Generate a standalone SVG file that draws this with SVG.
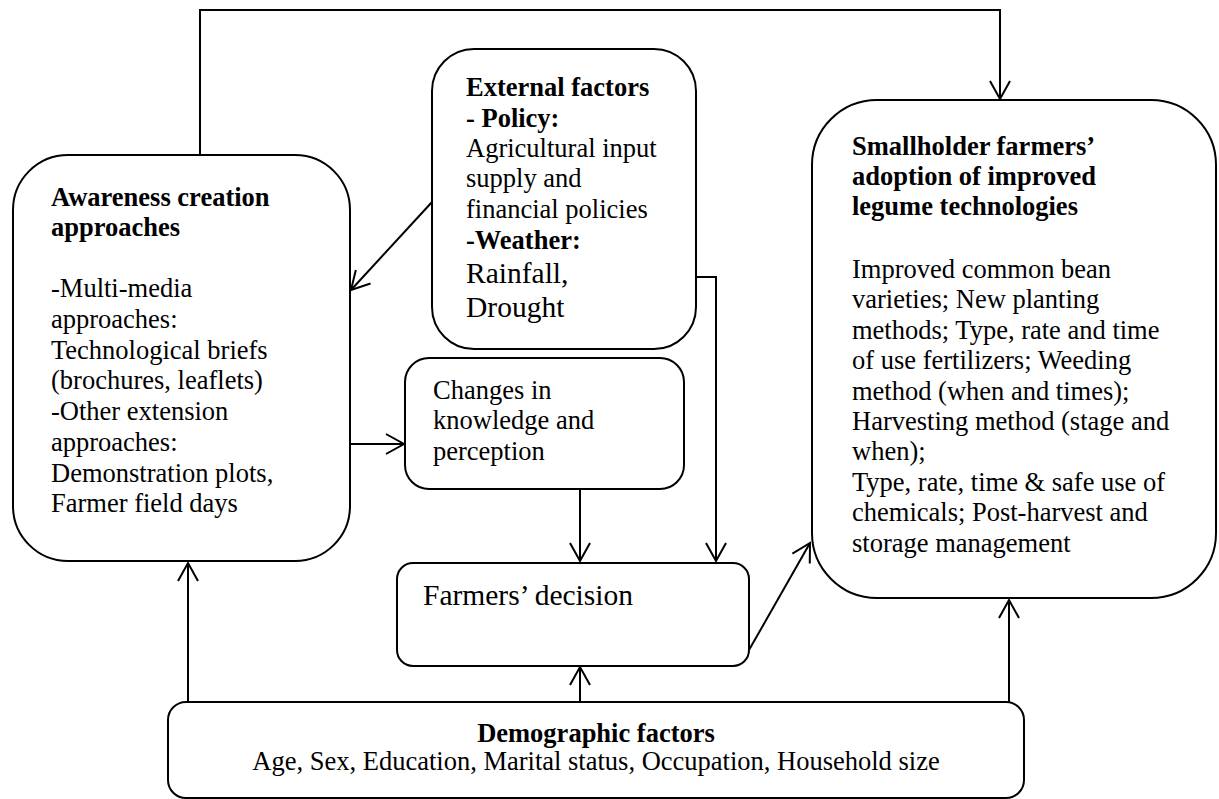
<svg xmlns="http://www.w3.org/2000/svg" width="1219" height="799" viewBox="0 0 1219 799">
<style>
.box{fill:#fff;stroke:#000;stroke-width:2}
.ln{fill:none;stroke:#000;stroke-width:2}
text{font-family:"Liberation Serif","Times New Roman",serif;fill:#000;font-size:26.5px}
.b{font-weight:bold}
.big{font-size:29.5px}
</style>
<defs>
<marker id="ah" markerUnits="userSpaceOnUse" markerWidth="24" markerHeight="24" viewBox="0 0 24 24" refX="21" refY="12" orient="auto">
<path d="M3,2 L21,12 L3,22" fill="none" stroke="#000" stroke-width="2"/>
</marker>
</defs>
<rect width="1219" height="799" fill="#fff"/>
<g id="connectors">
<polyline class="ln" points="200,155 200,10 1000,10 1000,99" marker-end="url(#ah)"/>
<line class="ln" x1="432" y1="202" x2="351" y2="290" marker-end="url(#ah)"/>
<polyline class="ln" points="696,277 716,277 716,561" marker-end="url(#ah)"/>
<line class="ln" x1="350" y1="444" x2="404" y2="444" marker-end="url(#ah)"/>
<line class="ln" x1="580" y1="489" x2="580" y2="561" marker-end="url(#ah)"/>
<line class="ln" x1="749" y1="650" x2="810" y2="543" marker-end="url(#ah)"/>
<line class="ln" x1="188" y1="702" x2="188" y2="563" marker-end="url(#ah)"/>
<line class="ln" x1="580" y1="702" x2="580" y2="667" marker-end="url(#ah)"/>
<line class="ln" x1="1009" y1="702" x2="1009" y2="600" marker-end="url(#ah)"/>
</g>
<g id="awareness">
<rect class="box" x="13" y="155" width="337" height="406" rx="55"/>
<text class="b"><tspan x="51" y="206">Awareness creation</tspan><tspan x="51" y="236">approaches</tspan></text>
<text><tspan x="51" y="297">-Multi-media</tspan><tspan x="51" y="328">approaches:</tspan><tspan x="51" y="359">Technological briefs</tspan><tspan x="51" y="389">(brochures, leaflets)</tspan><tspan x="51" y="420">-Other extension</tspan><tspan x="51" y="451">approaches:</tspan><tspan x="51" y="482">Demonstration plots,</tspan><tspan x="51" y="512">Farmer field days</tspan></text>
</g>
<g id="external">
<rect class="box" x="432" y="49" width="264" height="300" rx="42"/>
<text class="b"><tspan x="466" y="96">External factors</tspan><tspan x="466" y="127">- Policy:</tspan></text>
<text><tspan x="466" y="157">Agricultural input</tspan><tspan x="466" y="187">supply and</tspan><tspan x="466" y="218">financial policies</tspan></text>
<text class="b" x="466" y="249">-Weather:</text>
<text class="big"><tspan x="466" y="283">Rainfall,</tspan><tspan x="466" y="317">Drought</tspan></text>
</g>
<g id="changes">
<rect class="box" x="405" y="358" width="279" height="131" rx="24"/>
<text><tspan x="433" y="399">Changes in</tspan><tspan x="433" y="429">knowledge and</tspan><tspan x="433" y="460">perception</tspan></text>
</g>
<g id="decision">
<rect class="box" x="397" y="563" width="352" height="103" rx="16"/>
<text class="big" x="423" y="605">Farmers’ decision</text>
</g>
<g id="adoption">
<rect class="box" x="812" y="100" width="404" height="498" rx="65"/>
<text class="b"><tspan x="852" y="155">Smallholder farmers’</tspan><tspan x="852" y="185">adoption of improved</tspan><tspan x="852" y="215">legume technologies</tspan></text>
<text><tspan x="852" y="278">Improved common bean</tspan><tspan x="852" y="308">varieties; New planting</tspan><tspan x="852" y="339">methods; Type, rate and time</tspan><tspan x="852" y="369">of use fertilizers; Weeding</tspan><tspan x="852" y="400">method (when and times);</tspan><tspan x="852" y="430">Harvesting method (stage and</tspan><tspan x="852" y="460">when);</tspan><tspan x="852" y="491">Type, rate, time &amp; safe use of</tspan><tspan x="852" y="521">chemicals; Post-harvest and</tspan><tspan x="852" y="552">storage management</tspan></text>
</g>
<g id="demographic">
<rect class="box" x="168" y="702" width="856" height="96" rx="18"/>
<text class="b" x="596" y="742" text-anchor="middle">Demographic factors</text>
<text x="596" y="770" text-anchor="middle">Age, Sex, Education, Marital status, Occupation, Household size</text>
</g>
</svg>
